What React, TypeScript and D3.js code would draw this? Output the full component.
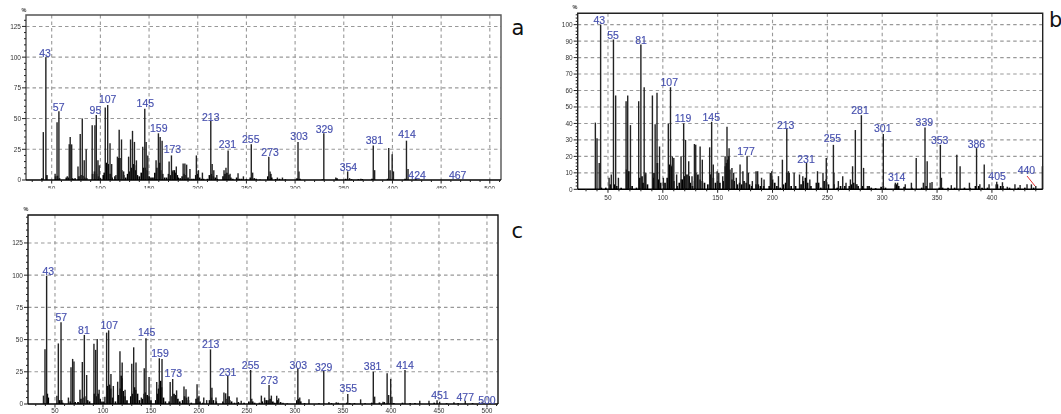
import * as d3 from "d3";

type Pair = [number, number];
type Label = [string, number, number];

// [m/z, % intensity]
const peaksA: Pair[] = [
  [41.4, 39], [44, 100], [53.5, 5], [55.5, 47], [57.4, 56], [66, 3], [68, 29], [69, 35], [70.5, 29], [77, 11],
  [79.3, 37.5], [81.4, 50], [83.4, 16], [85.4, 25], [91.6, 44.5], [94.4, 44.5], [95.8, 53], [97.5, 16], [98.8, 12],
  [105, 59], [107.5, 61], [109.9, 30], [111.6, 13], [116, 4], [117.5, 19], [119.3, 41], [121.7, 33], [123.9, 7],
  [129, 19], [131, 33], [133, 40], [135, 31], [137, 16], [143.5, 27], [145.6, 58], [147, 31], [148.7, 20],
  [157.2, 16], [159.6, 38], [161.4, 35], [163.4, 32], [170.6, 15], [173, 20], [174.6, 8], [178, 11], [185, 13.5],
  [186.8, 13.5], [188.6, 12.5], [192, 9], [198.6, 20], [200.7, 8], [204.8, 6], [213.4, 48], [214.8, 13], [216.5, 8],
  [219.6, 4], [227, 8], [229, 10], [231.2, 24], [233.2, 5], [241.4, 5.5], [246.9, 3], [255, 29], [256.4, 6],
  [273, 19], [274.3, 7], [281.8, 2], [287, 2], [303, 31], [304, 7], [329.5, 38], [341.8, 2], [354, 7], [356, 1.5],
  [367.5, 1], [380.3, 28], [381.7, 8], [396.2, 26], [397.6, 8], [399.7, 21], [401, 7], [414.4, 32], [416, 9], [424, 1],
];
const smallA: Pair[] = [
  [40, 1.5], [45, 4], [54, 3], [56, 3.5], [58, 1.5], [65, 2], [67, 2], [71, 1.5], [72, 1], [74, 1.5], [78, 3], [80, 4],
  [82, 3.5], [84, 2], [86, 1.5], [92, 5], [94, 7], [96, 5], [98, 3], [100, 1.5], [103, 4], [104, 6], [106, 14],
  [107, 14], [108, 13], [110, 5], [112, 2], [115, 3], [118, 10], [119, 18], [120, 18], [122, 8], [124, 4], [126, 2],
  [128, 5], [130, 7], [132, 10], [134, 13], [135, 12], [136, 8], [138, 4], [140, 3], [142, 6], [144, 10], [146, 10],
  [148, 8], [150, 3], [152, 2], [154, 2], [156, 6], [158, 10], [160, 14], [161, 14], [162, 8], [164, 5], [166, 2],
  [168, 2], [170, 5], [172, 4], [174, 7], [176, 8], [177, 6], [179, 4], [180, 2], [182, 1.5], [184, 3], [186, 5],
  [188, 4], [190, 2], [194, 1], [196, 1], [198, 4], [200, 5], [202, 2], [204, 1], [206, 1], [210, 1], [212, 4], [214, 5],
  [216, 3], [218, 2], [220, 1], [226, 3], [228, 5], [230, 6], [232, 4], [234, 2], [236, 1], [240, 2], [243, 1], [245, 1],
  [250, 0.8], [254, 2], [258, 1.5], [260, 1], [264, 0.5], [272, 3], [275, 5], [276, 2], [280, 0.8], [284, 1], [290, 0.5],
  [302, 1.5], [305, 1], [328, 0.5], [343, 1.5], [352, 1], [358, 0.7], [365, 0.7], [369, 0.8], [379, 1], [395, 1], [413, 1],
];
const labelsA: Label[] = [
  ["43", 43.2, 100.5], ["57", 57.2, 56.3], ["95", 94.9, 54], ["107", 107.5, 62.5], ["145", 146.2, 59.2],
  ["159", 160, 38.9], ["173", 174, 21.7], ["213", 213.4, 48.4], ["231", 230.5, 25.8], ["255", 254.5, 29.9],
  ["273", 274.3, 19.6], ["303", 304.1, 32.6], ["329", 330.1, 38], ["354", 354.8, 7.3], ["381", 381.5, 29],
  ["414", 415, 34], ["424", 425.3, 0.5], ["467", 467, 0.5],
];

const peaksB: Pair[] = [
  [38.5, 40.5], [40, 31], [42, 16], [43.3, 100], [51, 7], [53, 9], [55, 91], [57, 57], [59.5, 7], [66.5, 53.5], [68, 57],
  [70.5, 39], [78, 53.5], [80, 88], [83, 62], [84.5, 10], [90.5, 57], [93, 39.5], [94.7, 58.7], [97, 26], [100.5, 7],
  [105, 40], [107, 62], [108.7, 20], [110, 19], [112.6, 9], [116.6, 20], [119, 40], [120.7, 30], [123.6, 17],
  [126.6, 8], [128.8, 27.5], [130, 27], [134, 26], [136, 18], [142.7, 25.5], [144.5, 41], [146, 15], [149.5, 11],
  [151, 10], [154.6, 8], [156.8, 20], [158.5, 38], [160.4, 25], [163, 13], [164.6, 10], [167, 7], [170.4, 15],
  [173, 11], [176.8, 20], [178, 10], [181.6, 5], [185, 11], [186.5, 11], [190, 7], [192.3, 6], [198, 10], [199.3, 11],
  [205.4, 8], [209, 18], [213, 37], [214.5, 11], [219.7, 10], [224.6, 9], [227.6, 8], [231, 16], [234, 6], [241, 11],
  [246, 10], [249, 19], [255.5, 27], [256, 10], [260, 5], [264, 8], [267, 4], [271, 6], [273, 14], [275.5, 36], [277, 3],
  [281, 45], [283, 13], [286.5, 2], [301, 33.6], [312, 4], [314, 4], [321, 3], [326.6, 4], [331, 19], [337.5, 4],
  [339, 37.5], [341, 17], [343.6, 4], [345.4, 4.5], [353, 27], [354, 7], [363, 2.5], [368, 21], [371, 14], [379.5, 4],
  [386, 25], [389, 3], [393, 15], [397.4, 3], [404.4, 4.6], [409.6, 4.3], [414, 1.5], [421, 3], [425.7, 2.6], [432, 3],
  [436, 3], [440, 2], [446, 14],
];
const smallB: Pair[] = [
  [44, 1], [48, 1], [52, 3], [56, 3], [58, 2], [62, 1], [67, 12], [69, 11], [72, 2], [76, 1], [79, 7], [81, 8], [82, 4],
  [84, 9], [86, 3], [91, 7], [92, 10], [95, 16], [96, 6], [98, 4], [102, 4], [104, 7], [106, 15], [107, 15], [108, 14],
  [110, 5], [113, 2], [115, 4], [117, 6], [118, 6], [120, 8], [122, 9], [124, 8], [125, 4], [127, 2], [129, 5], [130, 10],
  [132, 9], [134, 6], [136, 5], [138, 4], [141, 3], [143, 9], [144, 9], [146, 7], [148, 4], [150, 5], [152, 4], [155, 5],
  [157, 14], [158, 16], [159, 18], [160, 20], [161, 12], [163, 6], [165, 5], [168, 3], [170, 4], [172, 3], [174, 5],
  [176, 4], [179, 3], [181, 2], [185, 3], [187, 3], [189, 2], [192, 2], [197, 2], [199, 4], [200, 6], [202, 4], [204, 2],
  [207, 1], [210, 3], [212, 4], [213, 10], [215, 10], [217, 2], [221, 2], [226, 3], [228, 5], [230, 7], [232, 4], [235, 2],
  [240, 4], [242, 4], [244, 1], [247, 5], [249, 6], [251, 3], [256, 3], [259, 1], [262, 2], [266, 2], [270, 2], [272, 3],
  [274, 4], [276, 3], [278, 2], [282, 2], [288, 2], [290, 1], [294, 0.7], [299, 1.5], [301, 2], [303, 1], [312, 3],
  [313, 3], [315, 2], [320, 1.5], [327, 1], [336, 1], [340, 2], [352, 1], [355, 1], [360, 1], [366, 1], [375, 1],
  [380, 1], [385, 2], [388, 2], [391, 1], [396, 1], [404, 3], [405, 3], [408, 2], [410, 2], [416, 1], [424, 1], [430, 1], [438, 1],
];
const labelsB: Label[] = [
  ["43", 42.1, 100.4], ["55", 54.6, 91.3], ["81", 80.1, 88.3], ["107", 105.9, 62.5], ["119", 118.4, 40.7],
  ["145", 144.2, 41.7], ["177", 175.8, 20.9], ["213", 212, 36.6], ["231", 230.5, 15.8], ["255", 254.6, 28.5],
  ["281", 279.8, 45.7], ["301", 300.5, 34.6], ["314", 313.2, 5], ["339", 338.4, 38.5], ["353", 352.4, 27.7],
  ["386", 385.9, 24.9], ["405", 404.7, 5.7], ["440", 431.5, 9.1],
];

const peaksC: Pair[] = [
  [38, 6.5], [39.6, 42.4], [41.3, 99.6], [52, 6.5], [53.5, 47], [56.3, 63.4], [64, 5], [66.7, 28.5], [68.4, 35], [69.8, 33],
  [76, 11], [78.5, 32.6], [80.6, 53.6], [83, 22.5], [90.6, 46.8], [92.4, 42], [94, 50.5], [96, 11], [102, 5.7], [103.8, 55.4],
  [105.9, 57.2], [108.3, 23.3], [110.8, 14], [115.3, 17.3], [117.7, 41], [120, 32.3], [123, 11], [130, 31.3], [132, 44],
  [134.4, 32.3], [140, 5], [143, 27.7], [144.8, 51], [148, 21], [156, 17], [158.7, 35.5], [161.5, 35], [170, 17], [172.6, 19.4],
  [176.7, 10.6], [184.4, 13.5], [186.5, 11.4], [189, 5.7], [198, 15.3], [200, 6.5], [205, 5], [208, 3], [212, 42.4], [213.5, 12.7],
  [217.7, 5], [226, 9], [227.8, 8.3], [230, 21.7], [231.6, 6], [239.6, 5], [244, 2.6], [253.8, 26.4], [255, 4], [265, 6.5],
  [268.4, 5], [273, 14.7], [275.4, 6.5], [281, 6.5], [283, 4.4], [287.5, 1], [303, 27.7], [305, 5], [314.6, 3.6], [330, 25.6],
  [335.4, 1.5], [343, 1.3], [355, 7.8], [368.4, 3.6], [381.6, 25], [383, 5.7], [391.7, 1.8], [396, 23.8], [397.6, 7], [399.7, 19.4],
  [401, 5.7], [414.6, 26.4], [430, 2.6], [439.6, 2.6], [448, 3], [450.7, 1.8], [465.6, 1.3], [477.4, 2.6], [495, 1.8],
];
const smallC: Pair[] = [
  [42, 8], [43, 5], [55, 3], [57, 3], [58, 1], [66, 2], [71, 1.5], [74, 1.5], [77, 4], [79, 5], [81, 6], [84, 3], [86, 2],
  [91, 8], [93, 6], [95, 8], [97, 4], [99, 2], [101, 2], [104, 7], [105, 14], [106, 15], [107, 15], [108, 12], [110, 5], [113, 2],
  [116, 7], [118, 12], [119, 22], [120, 20], [121, 10], [123, 6], [125, 3], [129, 6], [131, 8], [132, 10], [133, 13], [134, 11],
  [136, 8], [138, 3], [141, 4], [143, 8], [144, 9], [146, 7], [148, 6], [150, 3], [155, 3], [157, 8], [158, 12], [159, 15],
  [160, 18], [161, 13], [163, 5], [165, 2], [169, 2], [172, 6], [174, 8], [176, 7], [178, 4], [180, 2], [183, 3], [185, 6],
  [187, 5], [189, 3], [192, 1], [197, 4], [199, 5], [201, 2], [204, 1], [211, 3], [213, 5], [215, 3], [218, 2], [225, 2],
  [228, 4], [230, 6], [232, 3], [234, 2], [237, 1], [241, 1.5], [247, 1], [252, 2], [256, 2], [258, 1], [263, 1], [266, 2],
  [270, 3], [272, 3], [274, 4], [277, 2], [279, 1], [282, 3], [285, 1.5], [292, 0.5], [302, 3], [304, 4], [306, 2], [310, 0.7],
  [325, 0.6], [338, 0.7], [345, 1], [354, 1], [357, 0.8], [362, 0.7], [373, 0.6], [380, 1], [388, 1.2], [393, 1.5], [403, 0.8],
  [412, 1], [420, 0.7], [425, 0.7], [445, 1], [458, 0.6], [470, 0.6], [485, 0.7],
];
const labelsC: Label[] = [
  ["43", 43, 100], ["57", 56.6, 64.7], ["81", 80.2, 54], ["107", 106.6, 58.2], ["145", 145.5, 52.5], ["159", 159.4, 36.2],
  ["173", 173.3, 21], ["213", 212.2, 43.7], ["231", 229.9, 22], ["255", 253.8, 27.2], ["273", 273.3, 15.5], ["303", 303.5, 27.2],
  ["329", 329.9, 25.6], ["355", 355.6, 9], ["381", 380.9, 26.4], ["414", 414.6, 27.2], ["451", 451, 3.6], ["477", 477.4, 2.3],
  ["500", 500, 0.3],
];

const xTicksA = [50, 100, 150, 200, 250, 300, 350, 400, 450, 500];
const xTicksB = [50, 100, 150, 200, 250, 300, 350, 400];
const yTicksAC = [0, 25, 50, 75, 100, 125];
const yTicksB = [0, 10, 20, 30, 40, 50, 60, 70, 80, 90, 100];

const SANS = "'Liberation Sans', Arial, sans-serif";
const BLUE = "#4650ae";

type PanelProps = {
  name: string;
  box: { left: number; top: number; right: number; bottom: number };
  xDomain: [number, number];
  yTop: number;
  xTicks: number[];
  yTicks: number[];
  yMinor: number;
  peaks: Pair[];
  small: Pair[];
  labels: Label[];
  letter: [number, number];
  frame: string;
  xLabelY: number;
  clipTicks?: number;
  percent: [number, number];
  leader?: [number, number, number, number];
};

function Panel(p: PanelProps) {
  const { left, top, right, bottom } = p.box;
  const x = d3.scaleLinear().domain(p.xDomain).range([left, right]);
  const y = d3.scaleLinear().domain([0, p.yTop]).range([bottom, top]);
  const xMinor = d3.range(Math.ceil(p.xDomain[0] / 10) * 10, p.xDomain[1], 10);
  const yMinorTicks = d3.range(0, p.yTop, p.yMinor);
  const line = d3.line();
  const clipId = `ticks-${p.name}`;

  return (
    <g>
      <g filter="url(#soft)">
        {/* grid */}
        {p.xTicks.map((t) => (
          <line key={t} x1={x(t)} x2={x(t)} y1={top} y2={bottom} stroke="#999" strokeWidth={1.1} strokeDasharray="3.5 3" />
        ))}
        {p.yTicks.filter((t) => t > 0).map((t) => (
          <line key={t} x1={left} x2={right} y1={y(t)} y2={y(t)} stroke="#999" strokeWidth={1.1} strokeDasharray="3.5 3" />
        ))}

        {/* spectrum */}
        {p.small.map(([m, v], i) => (
          <path key={i} d={line([[x(m), y(0)], [x(m), y(v)]]) ?? ""} stroke="#000" strokeWidth={1.7} />
        ))}
        {p.peaks.map(([m, v], i) => (
          <path key={i} d={line([[x(m), y(0)], [x(m), y(v)]]) ?? ""} stroke="#222" strokeWidth={1.4} />
        ))}

        {/* frame and ticks */}
        <path d={`M${left},${bottom}V${top}H${right}V${bottom}`} fill="none" stroke={p.frame} strokeWidth={1.4} />
        <line x1={left} x2={right} y1={bottom} y2={bottom} stroke="#000" strokeWidth={1.4} />
        {xMinor.map((t) => (
          <line key={t} x1={x(t)} x2={x(t)} y1={bottom} y2={bottom + (t % 50 === 0 ? 3.5 : 2)} stroke="#222" />
        ))}
        {yMinorTicks.map((t) => (
          <line key={t} y1={y(t)} y2={y(t)} x1={left} x2={left - (p.yTicks.includes(t) ? 4 : 2)} stroke="#222" />
        ))}

        {/* tick labels */}
        {p.clipTicks !== undefined && (
          <clipPath id={clipId}>
            <rect x={left - 10} y={bottom} width={right - left + 30} height={p.clipTicks - bottom} />
          </clipPath>
        )}
        <g clipPath={p.clipTicks !== undefined ? `url(#${clipId})` : undefined} fontFamily={SANS} fontSize={6.5} fill="#333" textAnchor="middle">
          {p.xTicks.map((t) => (
            <text key={t} x={x(t)} y={p.xLabelY}>{t}</text>
          ))}
        </g>
        <g fontFamily={SANS} fontSize={6.5} fill="#333" textAnchor="end">
          {p.yTicks.map((t) => (
            <text key={t} x={left - 5} y={y(t) + 2.4}>{t}</text>
          ))}
        </g>
        <text x={p.percent[0]} y={p.percent[1]} fontFamily={SANS} fontSize={5.5} fontWeight="bold" fill="#333" textAnchor="middle">%</text>

        {/* peak labels */}
        {p.leader && (
          <line x1={p.leader[0]} y1={p.leader[1]} x2={p.leader[2]} y2={p.leader[3]} stroke="#e03030" />
        )}
        <g fontFamily={SANS} fontSize={10.5} fill={BLUE} stroke={BLUE} strokeWidth={0.15} textAnchor="middle">
          {p.labels.map(([t, m, v]) => (
            <text key={t} x={x(m)} y={y(v)}>{t}</text>
          ))}
        </g>
      </g>
      <text x={p.letter[0]} y={p.letter[1]} fontFamily="'DejaVu Sans', Verdana, sans-serif" fontSize={21} fill="#111">{p.name}</text>
    </g>
  );
}

export default function App() {
  return (
    <svg width={1061} height={414} style={{ position: "absolute", left: 0, top: 0 }}>
      <defs>
        <filter id="soft" x="-2%" y="-2%" width="104%" height="104%">
          <feGaussianBlur stdDeviation={0.42} />
        </filter>
      </defs>
      <Panel
        name="a"
        box={{ left: 26, top: 15, right: 501, bottom: 180 }}
        xDomain={[23.6, 511.5]}
        yTop={134.3}
        xTicks={xTicksA}
        yTicks={yTicksAC}
        yMinor={5}
        peaks={peaksA}
        small={smallA}
        labels={labelsA}
        letter={[511.5, 35]}
        frame="#555"
        xLabelY={191}
        clipTicks={188.5}
        percent={[24, 12]}
      />
      <Panel
        name="b"
        box={{ left: 577.7, top: 13.3, right: 1042.7, bottom: 189.3 }}
        xDomain={[22.4, 446.3]}
        yTop={106.9}
        xTicks={xTicksB}
        yTicks={yTicksB}
        yMinor={2}
        peaks={peaksB}
        small={smallB}
        labels={labelsB}
        letter={[1049, 27]}
        frame="#222"
        xLabelY={199.5}
        percent={[575, 9]}
        leader={[1027, 176, 1035, 186]}
      />
      <Panel
        name="c"
        box={{ left: 28, top: 215, right: 498, bottom: 404 }}
        xDomain={[21.9, 511.5]}
        yTop={146.7}
        xTicks={xTicksA}
        yTicks={yTicksAC}
        yMinor={5}
        peaks={peaksC}
        small={smallC}
        labels={labelsC}
        letter={[511.5, 238]}
        frame="#111"
        xLabelY={413}
        percent={[26, 211]}
      />
    </svg>
  );
}
